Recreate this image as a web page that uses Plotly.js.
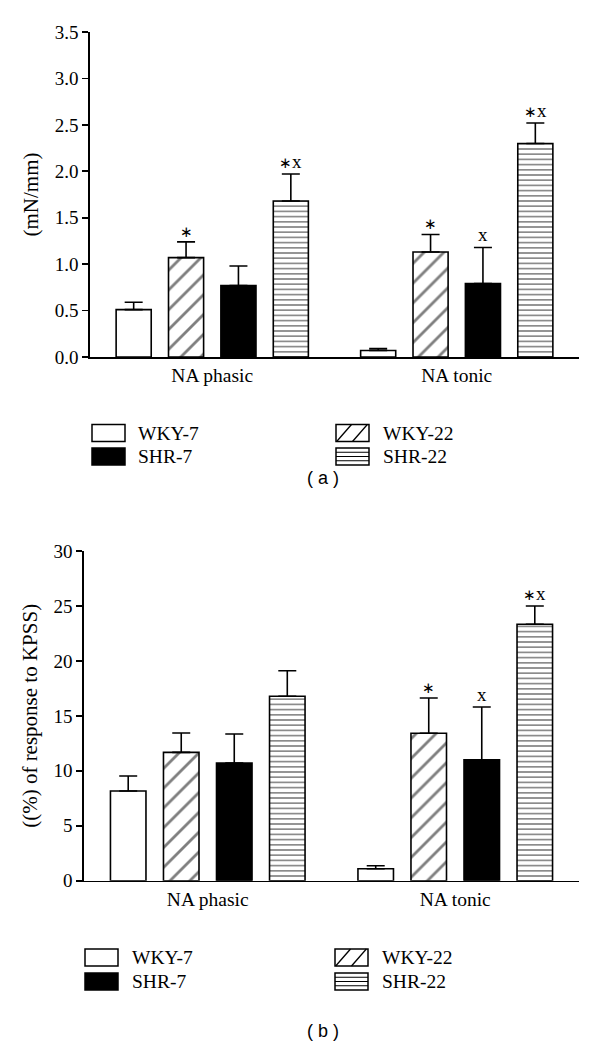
<!DOCTYPE html>
<html><head><meta charset="utf-8">
<script src="https://cdn.plot.ly/plotly-3.0.1.min.js"></script>
<style>body{margin:0;background:#fff}#chart{width:600px;height:1044px}</style>
</head><body><div id="chart"></div>
<script>
// ---------- data ----------
const groups = ['NA phasic', 'NA tonic'];
const seriesNames = ['WKY-7', 'WKY-22', 'SHR-7', 'SHR-22'];

// Panel (a): (mN/mm)
const aWKY7 = [0.51, 0.07];
const aWKY22 = [1.07, 1.13];
const aSHR7 = [0.77, 0.79];
const aSHR22 = [1.68, 2.30];
const aWKY7Err = [0.08, 0.02];
const aWKY22Err = [0.17, 0.19];
const aSHR7Err = [0.21, 0.39];
const aSHR22Err = [0.29, 0.22];
const aWKY7Sig = ['', ''];
const aWKY22Sig = ['∗', '∗'];
const aSHR7Sig = ['', 'x'];
const aSHR22Sig = ['∗x', '∗x'];

// Panel (b): (%) of response to KPSS
const bWKY7 = [8.16, 1.09];
const bWKY22 = [11.68, 13.41];
const bSHR7 = [10.71, 11.01];
const bSHR22 = [16.78, 23.33];
const bWKY7Err = [1.37, 0.27];
const bWKY22Err = [1.76, 3.21];
const bSHR7Err = [2.64, 4.79];
const bSHR22Err = [2.33, 1.67];
const bWKY7Sig = ['', ''];
const bWKY22Sig = ['', '∗'];
const bSHR7Sig = ['', 'x'];
const bSHR22Sig = ['', '∗x'];

const aTickVals = [0, 0.5, 1, 1.5, 2, 2.5, 3, 3.5];
const bTickVals = [0, 5, 10, 15, 20, 25, 30];

// ---------- styling ----------
const W = 600, H = 1044;
const px = x => x / W;
const py = y => 1 - y / H;
const serif = 'Liberation Serif, Times New Roman, serif';
const BARGAP = 0.143, GROUPGAP = 0.33;
const slot = (1 - BARGAP) / 4;

const styles = [
  {color: '#ffffff'},
  {color: '#ffffff', pattern: {shape: '/', fgcolor: '#000', bgcolor: '#fff', size: 14, solidity: 0.2, fillmode: 'overlay'}},
  {color: '#000000'},
  {color: '#ffffff', pattern: {shape: '-', fgcolor: '#000', bgcolor: '#fff', size: 5.2, solidity: 0.3, fillmode: 'overlay'}}
];

// star glyph rendered smaller, as in the figure
const fmtSig = s => s.replace('∗', '<span style="font-size:15px">∗</span>');

const panels = [
  {xa: 'x', ya: 'y', vals: [aWKY7, aWKY22, aSHR7, aSHR22], errs: [aWKY7Err, aWKY22Err, aSHR7Err, aSHR22Err], sigs: [aWKY7Sig, aWKY22Sig, aSHR7Sig, aSHR22Sig]},
  {xa: 'x2', ya: 'y2', vals: [bWKY7, bWKY22, bSHR7, bSHR22], errs: [bWKY7Err, bWKY22Err, bSHR7Err, bSHR22Err], sigs: [bWKY7Sig, bWKY22Sig, bSHR7Sig, bSHR22Sig]}
];

const traces = [];
const annotations = [];
panels.forEach(p => {
  seriesNames.forEach((name, si) => {
    const m = {color: styles[si].color, line: {color: '#000', width: 1.6}};
    if (styles[si].pattern) m.pattern = styles[si].pattern;
    traces.push({
      type: 'bar', name: name, x: groups, y: p.vals[si],
      xaxis: p.xa, yaxis: p.ya, marker: m, showlegend: false,
      error_y: {type: 'data', array: p.errs[si], arrayminus: p.vals[si].map(() => 0), symmetric: false,
                color: '#000', thickness: 1.6, width: 9},
      hoverinfo: 'skip'
    });
    p.sigs[si].forEach((s, gi) => {
      if (!s) return;
      annotations.push({
        xref: p.xa, yref: p.ya, x: gi + (si - 1.5) * slot, y: p.vals[si][gi] + p.errs[si][gi],
        text: fmtSig(s), showarrow: false, yanchor: 'bottom', xanchor: 'center', yshift: 0,
        font: {family: serif, size: 19, color: '#000'}
      });
    });
  });
});

// ---------- custom legends ----------
const shapes = [];
function legend(rowsY, colX, textX) {
  seriesNames.forEach((name, si) => {
    const col = (si === 0 || si === 2) ? 0 : 1;
    const row = (si < 2) ? 0 : 1;
    const x0 = colX[col], x1 = colX[col] + 33;
    const yc = rowsY[row], y0 = yc - 8.5, y1 = yc + 8.5;
    shapes.push({type: 'rect', xref: 'paper', yref: 'paper', x0: px(x0), x1: px(x1), y0: py(y1), y1: py(y0),
      fillcolor: styles[si].color, line: {color: '#000', width: 1.5}});
    if (si === 1) {
      const w = x1 - x0;
      [[0.02, 0.47], [0.5, 0.95]].forEach(([a, b]) => shapes.push({type: 'line', xref: 'paper', yref: 'paper',
        x0: px(x0 + w * a), y0: py(y1), x1: px(x0 + w * b), y1: py(y0), line: {color: '#000', width: 1.3}}));
    }
    if (si === 3) {
      [0.25, 0.5, 0.75].forEach(f => shapes.push({type: 'line', xref: 'paper', yref: 'paper',
        x0: px(x0), x1: px(x1), y0: py(y0 + (y1 - y0) * f), y1: py(y0 + (y1 - y0) * f), line: {color: '#000', width: 1}}));
    }
    annotations.push({xref: 'paper', yref: 'paper', x: px(textX[col]), y: py(yc), xanchor: 'left', yanchor: 'middle',
      text: name, showarrow: false, font: {family: serif, size: 19.5, color: '#000'}});
  });
}
legend([433, 456.5], [92, 336], [136, 381]);
legend([957.5, 981.5], [85, 335], [130, 380]);

annotations.push({xref: 'paper', yref: 'paper', x: px(323), y: py(478), text: '( a )', showarrow: false,
  xanchor: 'center', yanchor: 'middle', font: {family: 'Liberation Sans, Arial, sans-serif', size: 18, color: '#000'}});
annotations.push({xref: 'paper', yref: 'paper', x: px(323), y: py(1031), text: '( b )', showarrow: false,
  xanchor: 'center', yanchor: 'middle', font: {family: 'Liberation Sans, Arial, sans-serif', size: 18, color: '#000'}});

const xaxisBase = {
  type: 'category', showline: true, linecolor: '#000', linewidth: 1.6, ticks: '', showgrid: false, zeroline: false,
  tickfont: {family: serif, size: 19.5, color: '#000'}, fixedrange: true
};
const yaxisBase = {
  showline: true, linecolor: '#000', linewidth: 1.6, ticks: 'outside', ticklen: 6, tickwidth: 1.6, tickcolor: '#000',
  showgrid: false, zeroline: false, tickfont: {family: serif, size: 19, color: '#000'}, fixedrange: true
};

const layout = {
  width: W, height: H, margin: {l: 0, r: 0, t: 0, b: 0},
  paper_bgcolor: '#fff', plot_bgcolor: '#fff',
  barmode: 'group', bargap: BARGAP, bargroupgap: GROUPGAP,
  showlegend: false,
  xaxis: Object.assign({}, xaxisBase, {domain: [px(90), px(579)], anchor: 'y', range: [-0.5, 1.5]}),
  yaxis: Object.assign({}, yaxisBase, {domain: [py(357), py(32)], anchor: 'x', range: [0, 3.5],
    tickvals: aTickVals, tickformat: '.1f',
    title: {text: '(mN/mm)', font: {family: serif, size: 21, color: '#000'}, standoff: 10}}),
  xaxis2: Object.assign({}, xaxisBase, {domain: [px(84), px(579)], anchor: 'y2', range: [-0.5, 1.5]}),
  yaxis2: Object.assign({}, yaxisBase, {domain: [py(880.7), py(551)], anchor: 'x2', range: [0, 30],
    tickvals: bTickVals,
    title: {text: '((%) of response to KPSS)', font: {family: serif, size: 21, color: '#000'}, standoff: 10}}),
  annotations: annotations,
  shapes: shapes
};

Plotly.newPlot('chart', traces, layout, {staticPlot: true, displayModeBar: false});
</script>
</body></html>
